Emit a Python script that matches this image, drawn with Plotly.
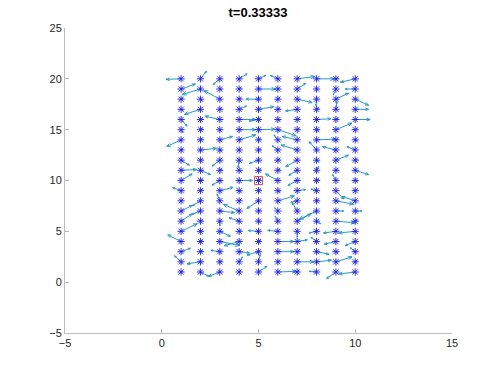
import plotly.graph_objects as go
import math

# grid of particle positions
x_cols = [1, 2, 3, 4, 5, 6, 7, 8, 9, 10]
y_rows = [20, 19, 18, 17, 16, 15, 14, 13, 12, 11, 10, 9, 8, 7, 6, 5, 4, 3, 2, 1]

# velocity components (rows follow y_rows, columns follow x_cols)
U = [
    [-0.77, 0.31, -0.34, 0.41, 0.38, -0.38, 0.91, 0.93, 0.10, -0.77],
    [0.74, -0.95, 0.10, 0.10, 0.88, 0.05, 0.43, 0.05, -0.14, -0.52],
    [0.10, 0.10, -0.83, 0.10, -0.65, 0.10, 0.77, -0.03, 0.65, 0.69],
    [0.10, -0.83, 0.05, 0.38, 0.79, 0.10, -0.60, 0.10, 0.05, 0.69],
    [0.31, 0.10, -0.77, 0.86, -0.48, 0.10, 0.10, 0.74, 0.10, 0.77],
    [0.10, 0.10, 0.05, 0.86, 0.85, 0.95, 0.10, 0.10, 0.83, 0.10],
    [-0.74, 0.10, 0.65, 0.86, 0.10, -0.20, -0.77, 1.00, 0.10, 0.10],
    [0.10, 0.83, 0.10, 0.05, 0.10, -0.29, -0.83, -0.38, -0.69, -0.43],
    [0.43, 0.10, -0.40, -0.05, -0.48, 0.10, -0.60, 0.10, 0.65, 0.10],
    [0.80, 0.52, 0.10, 0.10, 0.10, 0.10, -0.43, 0.10, 0.10, 0.69],
    [0.57, 0.10, -0.40, 0.69, 0.10, -0.64, -0.48, 0.10, -0.17, 0.10],
    [-0.43, 0.10, 0.69, 0.10, 0.10, 0.10, 0.43, -0.29, 0.40, 0.10],
    [0.10, -0.43, -0.14, 0.10, -0.60, 0.86, -0.34, 0.10, 0.91, -0.69],
    [0.57, -0.46, 0.77, -0.81, 0.10, -0.17, -0.26, -0.90, 0.40, 0.34],
    [0.57, 0.10, 0.00, -0.52, 0.10, -0.14, 0.72, 0.22, 1.00, 0.10],
    [0.83, 0.10, 0.55, 0.10, -0.52, -0.52, 0.00, -0.38, -0.64, -0.86],
    [-0.69, 0.10, 1.03, -0.77, 0.10, 0.83, 0.52, -0.29, -0.60, -0.52],
    [0.48, 0.10, -0.46, 0.52, -0.60, 0.83, 0.10, 0.65, 0.10, -0.26],
    [-0.34, -0.69, 0.10, 0.17, 0.09, 0.10, 0.86, 0.77, 0.83, 0.10],
    [0.10, 0.43, -0.57, 0.10, 0.43, 0.95, 0.10, -0.38, -0.48, -0.86],
]
V = [
    [-0.05, 0.75, -0.56, 0.49, 0.33, 0.33, 0.23, 0.00, 0.10, -0.33],
    [0.49, -0.55, -0.10, 0.10, 0.00, 0.10, 0.55, -0.10, -0.59, 0.00],
    [0.10, -0.10, 0.85, 0.10, 0.00, 0.10, -0.33, -0.65, 0.59, -0.59],
    [-0.10, -0.50, 0.10, 0.33, 0.26, 0.10, -0.16, 0.10, 0.75, 0.00],
    [-0.65, 0.10, 0.33, 0.00, -0.16, -0.10, 0.10, 0.07, 0.10, 0.00],
    [-0.30, 0.10, -0.10, 0.00, 0.05, -0.60, 0.10, -0.10, 0.65, 0.10],
    [-0.65, 0.10, 0.33, 0.49, 0.10, 0.49, 0.33, 0.07, 0.10, -0.10],
    [0.10, 0.16, -0.10, 0.10, 0.10, 0.42, 0.49, 0.82, 0.33, 0.33],
    [-0.49, 0.10, -0.59, -0.72, -0.33, 0.10, -0.65, -0.10, 0.49, 0.10],
    [0.08, -0.42, 0.10, -0.10, 0.10, 0.10, -0.49, 0.39, 0.10, -0.42],
    [0.65, 0.10, -0.46, 0.00, 0.10, 0.65, -0.49, 0.10, 0.59, -0.10],
    [0.29, 0.10, 0.33, -0.10, 0.10, -0.10, 0.10, 0.16, -0.82, 0.10],
    [0.10, -0.49, 0.65, 0.10, -0.75, 0.49, -0.16, 0.10, -0.33, 0.42],
    [0.55, -0.33, -0.16, 0.65, 0.10, 0.33, 0.82, -0.82, 0.00, 0.00],
    [0.72, 0.10, -0.49, 0.33, -0.10, 0.49, 0.72, -0.26, -0.16, 0.10],
    [0.75, 0.10, -0.49, 0.10, 0.07, 0.10, -0.59, -0.16, -0.16, -0.16],
    [0.65, 0.10, -0.39, -0.42, 0.10, 0.00, 0.16, 0.42, -0.26, -0.39],
    [0.33, 0.10, 0.13, -0.10, -0.33, 0.00, 0.10, -0.26, -0.10, 0.39],
    [0.59, -0.20, 0.10, 0.49, 0.72, 0.10, 0.00, 0.16, 0.49, 0.10],
    [0.10, -0.42, -0.42, 0.10, 0.55, 0.07, 0.10, 0.07, -0.65, -0.20],
]

# highlighted particle
mark_x = [5]
mark_y = [10]

title_text = "t=0.33333"
x_ticks = [-5, 0, 5, 10, 15]
y_ticks = [-5, 0, 5, 10, 15, 20, 25]

# layout geometry (pixels)
W, H = 500, 375
ml, mr, mt, mb = 65, 48, 28, 42
x_range = [-5, 15]
y_range = [-5, 25]
kx = (W - ml - mr) / (x_range[1] - x_range[0])
ky = (H - mt - mb) / (y_range[1] - y_range[0])

px, py = [], []
shaft_x, shaft_y = [], []
head_x, head_y = [], []
for i, yv in enumerate(y_rows):
    for j, xv in enumerate(x_cols):
        u, v = U[i][j], V[i][j]
        px.append(xv)
        py.append(yv)
        tx, ty = xv + u, yv + v
        shaft_x += [xv, tx, None]
        shaft_y += [yv, ty, None]
        # arrow head computed in pixel space
        dxp, dyp = u * kx, v * ky
        L = math.hypot(dxp, dyp)
        if L < 1e-9:
            continue
        hl = 0.25 * L
        ang = math.atan2(dyp, dxp)
        for s in (1, -1):
            a = ang + math.pi - s * math.radians(22)
            hx = tx + hl * math.cos(a) / kx
            hy = ty + hl * math.sin(a) / ky
            head_x += [tx, hx, None]
            head_y += [ty, hy, None]

arrow_color = "#2a9ac8"

fig = go.Figure()
fig.add_trace(go.Scatter(x=shaft_x, y=shaft_y, mode="lines",
                         line=dict(color=arrow_color, width=1), hoverinfo="skip"))
fig.add_trace(go.Scatter(x=head_x, y=head_y, mode="lines",
                         line=dict(color=arrow_color, width=1), hoverinfo="skip"))
fig.add_trace(go.Scatter(x=px, y=py, mode="markers",
                         marker=dict(symbol="asterisk-open", size=6, color="#1a1aff",
                                     line=dict(color="#1a1aff", width=0.9))))
fig.add_trace(go.Scatter(x=mark_x, y=mark_y, mode="markers",
                         marker=dict(symbol="square-open", size=8,
                                     color="#ff4060", line=dict(color="#ff4060", width=1))))

axis_common = dict(showgrid=False, zeroline=False, showline=True,
                   linecolor="#bdbdbd", linewidth=1, ticks="inside",
                   ticklen=4, tickcolor="#bdbdbd", mirror=False,
                   tickfont=dict(family="Liberation Sans, Arial", size=11, color="#262626"))

fig.update_layout(
    width=W, height=H,
    margin=dict(l=ml, r=mr, t=mt, b=mb),
    paper_bgcolor="white", plot_bgcolor="white",
    showlegend=False,
    title=dict(text="<b>" + title_text + "</b>", x=0.516, xanchor="center",
               y=1 - 12 / H, yanchor="middle",
               font=dict(family="Liberation Sans, Arial", size=13, color="#000000")),
    xaxis=dict(range=x_range, tickvals=x_ticks, **axis_common),
    yaxis=dict(range=y_range, tickvals=y_ticks, **axis_common),
)

fig.write_html("out.html")
